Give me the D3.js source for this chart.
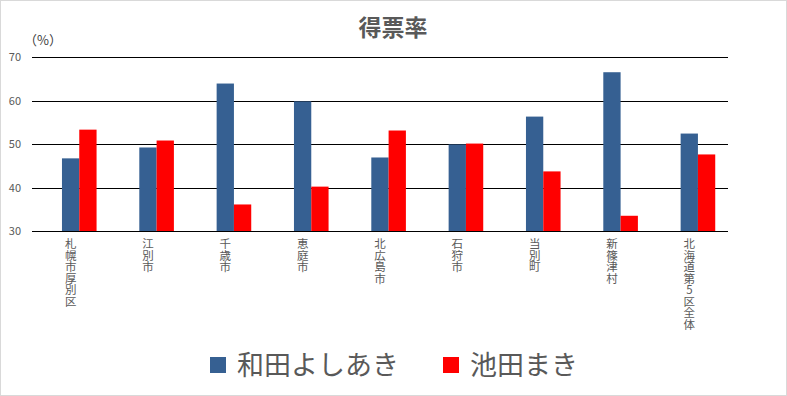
<!DOCTYPE html>
<html>
<head>
<meta charset="utf-8">
<script src="https://cdn.jsdelivr.net/npm/d3@7"></script>
<style>
  body { margin: 0; background: #fff; }
  text { font-family: "Noto Sans CJK JP", "Noto Sans", sans-serif; }
</style>
</head>
<body>
<div id="chart"></div>
<script>
// data
var categories = ["札幌市厚別区", "江別市", "千歳市", "恵庭市", "北広島市", "石狩市", "当別町", "新篠津村", "北海道第5区全体"];
var wada = [46.7, 49.2, 63.9, 59.8, 46.9, 49.9, 56.3, 66.5, 52.4];
var ikeda = [53.3, 50.8, 36.1, 40.2, 53.1, 50.1, 43.7, 33.5, 47.6];
var seriesNames = ["和田よしあき", "池田まき"];
var seriesColors = ["#366092", "#ff0000"];
var yTicks = [30, 40, 50, 60, 70];

var width = 787, height = 396;

var svg = d3.select("#chart").append("svg")
  .attr("width", width)
  .attr("height", height);

// outer border
svg.append("rect")
  .attr("x", 0.5).attr("y", 0.5)
  .attr("width", width - 1).attr("height", height - 1)
  .attr("fill", "#fff")
  .attr("stroke", "#d9d9d9");

var x = d3.scaleBand().domain(categories).range([32, 728]);
var y = d3.scaleLinear().domain([30, 70]).range([231, 57]);

var barW = 17.3;
var barShift = -8.7; // bars sit a bit right of the band center

// gridlines
svg.append("g")
  .selectAll("line")
  .data(yTicks)
  .join("line")
  .attr("x1", 32).attr("x2", 728)
  .attr("y1", d => Math.round(y(d)) + 0.5)
  .attr("y2", d => Math.round(y(d)) + 0.5)
  .attr("stroke", "#000")
  .attr("stroke-width", 1.2);

// y tick labels
svg.append("g")
  .selectAll("text")
  .data(yTicks)
  .join("text")
  .attr("x", 21)
  .attr("y", d => y(d) + 4)
  .attr("text-anchor", "end")
  .attr("fill", "#595959")
  .style("font-size", "11px")
  .text(d => d);

svg.append("text")
  .attr("x", 24).attr("y", 45)
  .attr("fill", "#404040")
  .style("font-size", "13px")
  .text("（%）");

// title
svg.append("text")
  .attr("x", 393).attr("y", 36)
  .attr("text-anchor", "middle")
  .attr("fill", "#595959")
  .style("font-size", "23px")
  .style("font-weight", "bold")
  .text("得票率");

// bars
var series = [wada, ikeda];
series.forEach(function (vals, s) {
  svg.append("g")
    .selectAll("rect")
    .data(vals)
    .join("rect")
    .attr("x", (d, i) => x(categories[i]) + x.bandwidth() / 2 + barShift + s * barW)
    .attr("y", d => y(d))
    .attr("width", barW)
    .attr("height", d => y(30) - y(d))
    .attr("fill", seriesColors[s]);
});

// redraw baseline on top
svg.append("line")
  .attr("x1", 32).attr("x2", 728)
  .attr("y1", Math.round(y(30)) + 0.5).attr("y2", Math.round(y(30)) + 0.5)
  .attr("stroke", "#000")
  .attr("stroke-width", 1.2);

// vertical category labels
svg.append("g")
  .selectAll("text")
  .data(categories)
  .join("text")
  .attr("transform", d => "translate(" + (x(d) + x.bandwidth() / 2) + ",238)")
  .style("writing-mode", "vertical-rl")
  .style("text-orientation", "upright")
  .style("font-size", "11.5px")
  .attr("fill", "#595959")
  .text(d => d);

// legend
var legendX = [210, 443];
var legend = svg.append("g");
seriesNames.forEach(function (name, i) {
  legend.append("rect")
    .attr("x", legendX[i]).attr("y", 357)
    .attr("width", 16).attr("height", 16)
    .attr("fill", seriesColors[i]);
  legend.append("text")
    .attr("x", legendX[i] + 27).attr("y", 375)
    .attr("fill", "#595959")
    .style("font-size", "27px")
    .text(name);
});
</script>
</body>
</html>
